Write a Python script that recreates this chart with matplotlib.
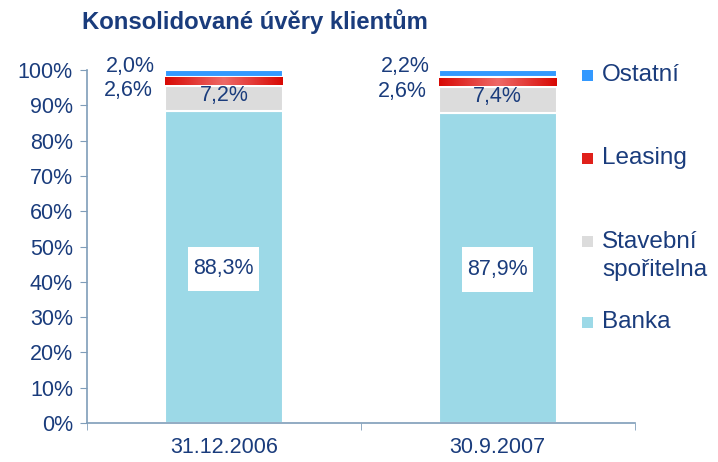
import matplotlib
matplotlib.use("Agg")
import matplotlib.pyplot as plt
import numpy as np
from matplotlib.patches import Rectangle
from matplotlib.colors import LinearSegmentedColormap

plt.rcParams['font.family'] = ['Liberation Sans', 'DejaVu Sans']

categories = ["31.12.2006", "30.9.2007"]
banka = [88.3, 87.9]
stavebni = [7.2, 7.4]
leasing = [2.6, 2.6]
ostatni = [2.0, 2.2]
series_names = ["Banka", "Stavební\nspořitelna", "Leasing", "Ostatní"]
yticks = [0, 10, 20, 30, 40, 50, 60, 70, 80, 90, 100]

txt = '#1A3C7C'
colors = ['#9CD9E7', '#DCDCDC', '#E0201A', '#3399FF']
fs = 15.5

fig = plt.figure(figsize=(7.18, 4.62), dpi=100)
ax = fig.add_axes([0.121, 0.0844, 0.763, 0.764])

x = np.arange(len(categories))
width = 0.43
bottom = np.zeros(len(categories))
containers = []
for vals, col in zip([banka, stavebni, leasing, ostatni], colors):
    b = ax.bar(x, vals, width, bottom=bottom, color=col, edgecolor='white', linewidth=1.5)
    containers.append(b)
    bottom = bottom + np.array(vals)

# gradient fill on leasing bars
cmap = LinearSegmentedColormap.from_list('lg', ['#D80A05', '#EE6A68', '#D80A05'])
grad = np.linspace(0, 1, 64).reshape(1, -1)
for p in containers[2].patches:
    x0, y0 = p.get_x(), p.get_y()
    w, h = p.get_width(), p.get_height()
    ax.imshow(grad, cmap=cmap, extent=[x0, x0 + w, y0 + 0.25, y0 + h - 0.25], aspect='auto', zorder=2.5)
ax.set_aspect('auto')

def fmt(v):
    return f"{v:.1f}%".replace('.', ',')

box_w, box_h = 0.26, 12.7
for i in range(len(categories)):
    yc = banka[i] / 2 - 0.5
    ax.add_patch(Rectangle((x[i] - box_w / 2, yc - box_h / 2), box_w, box_h,
                           facecolor='white', edgecolor='none', zorder=4))
    ax.text(x[i], yc, fmt(banka[i]), ha='center', va='center', fontsize=fs, color=txt, zorder=5)
    ax.text(x[i], banka[i] + stavebni[i] / 2 + 0.8, fmt(stavebni[i]), ha='center', va='center', fontsize=fs, color=txt, zorder=5)
    left = x[i] - width / 2
    ax.text(left - 0.045, banka[i] + stavebni[i] + leasing[i] / 2 - 2.6, fmt(leasing[i]), ha='right', va='center', fontsize=fs, color=txt)
    ax.text(left - 0.035, 100 + 1.0, fmt(ostatni[i]), ha='right', va='center', fontsize=fs, color=txt)

ax.set_xlim(-0.5, 1.5)
ax.set_ylim(0, 100)
ax.set_yticks(yticks)
ax.set_yticklabels([f"{t}%" for t in yticks], fontsize=fs, color=txt)
ax.set_xticks(x)
ax.set_xticklabels(categories, fontsize=fs, color=txt)
ax.tick_params(axis='x', length=0, pad=10)
ax.set_xticks([-0.5, 0.5, 1.5], minor=True)
ax.tick_params(axis='x', which='minor', length=5, color='#7F9DB9', direction='out')
ax.tick_params(axis='y', length=5, color='#7F9DB9', direction='out', pad=5)
for s in ['top', 'right']:
    ax.spines[s].set_visible(False)
for s in ['left', 'bottom']:
    ax.spines[s].set_color('#7F9DB9')
    ax.spines[s].set_linewidth(1.2)

fig.text(0.355, 0.953, "Konsolidované úvěry klientům", ha='center', va='center',
         fontsize=17.2, fontweight='bold', color=txt)

# legend (manual placement, top to bottom)
W, H = 718.0, 462.0
leg_items = [("Ostatní", colors[3], 75), ("Leasing", colors[2], 158),
             ("Stavební\nspořitelna", colors[1], 256), ("Banka", colors[0], 322)]
for label, col, yc in leg_items:
    my = yc if '\n' not in label else 241
    fig.patches.append(Rectangle((582 / W, 1 - (my + 6) / H), 11 / W, 11 / H,
                                 transform=fig.transFigure, facecolor=col, edgecolor='none'))
    fig.text(602 / W, 1 - yc / H, label, ha='left', va='center', fontsize=17.5, color=txt, linespacing=1.3)

fig.savefig("out.png", dpi=100)
